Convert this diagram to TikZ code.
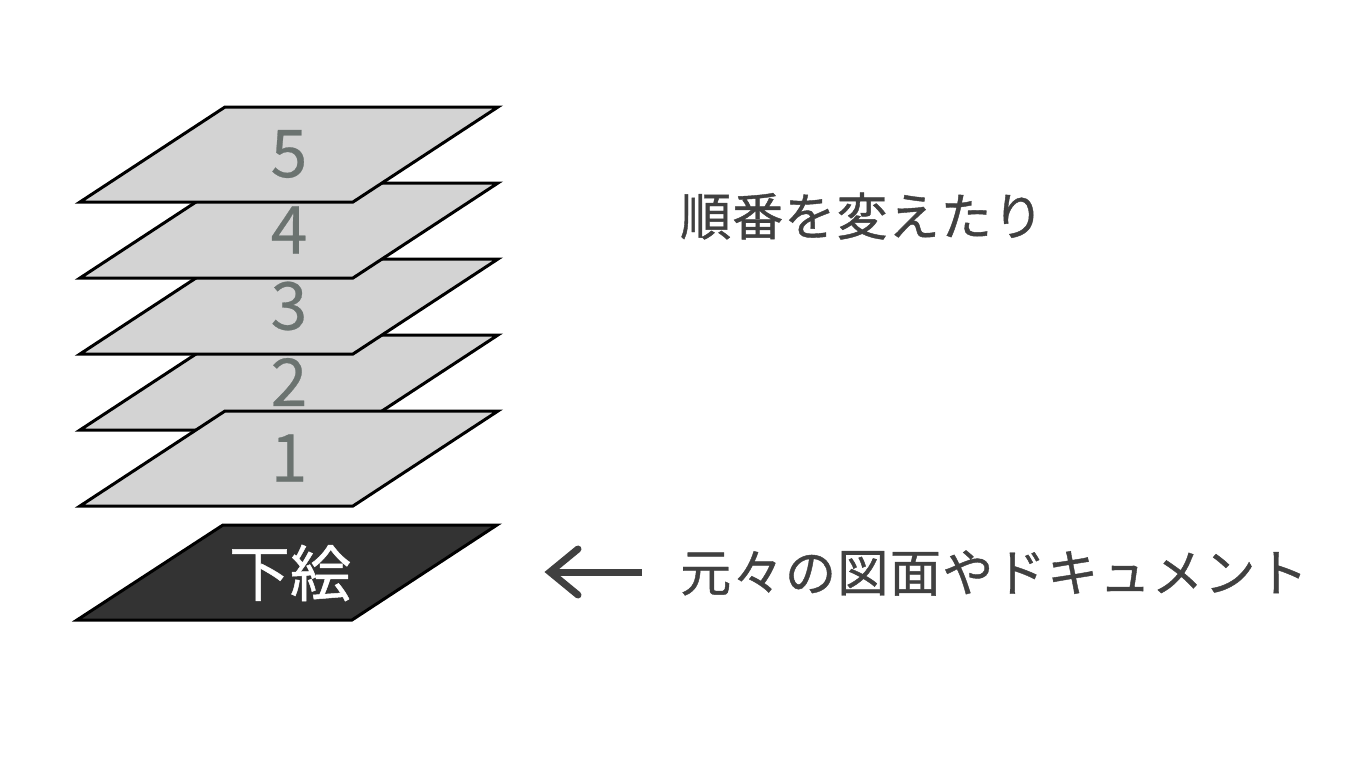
\documentclass[tikz,border=0pt]{standalone}
\usepackage{fontspec}
\usetikzlibrary{calc}
\setmainfont{Noto Sans CJK JP}
\newfontfamily\jptop[LetterSpace=2.2,FakeBold=0.8]{Noto Sans CJK JP}
\newfontfamily\jpbottom[LetterSpace=2.8,FakeBold=0.8]{Noto Sans CJK JP}
\newfontfamily\jpbase[FakeBold=0.8]{Noto Sans CJK JP}
\newfontfamily\jpnum[FakeBold=0.4]{Noto Sans CJK JP}
\definecolor{layerfill}{HTML}{D3D3D3}
\definecolor{basefill}{HTML}{333333}
\definecolor{numcol}{HTML}{6B7370}
\definecolor{txtcol}{HTML}{404040}
\begin{document}
\begin{tikzpicture}[x=1pt,y=-1pt,
  layer/.style={draw=black,line width=3pt,line join=miter,fill=layerfill},
  baselayer/.style={draw=black,line width=3pt,fill=basefill},
  numlabel/.style={text=numcol,font=\jpnum\fontsize{66}{66}\selectfont,inner sep=0pt},
  baselabel/.style={text=white,font=\jpbase\fontsize{61}{61}\selectfont,inner sep=0pt},
  sidetext/.style={text=txtcol,inner sep=0pt,anchor=west},
  pointer/.style={draw=txtcol,line width=7pt}]
\useasboundingbox (0,0) rectangle (1366,768);
% layer 2 (lowest in drawing order)
\foreach \n/\t in {2/335,1/411,3/259,4/183,5/107}{
  \path[layer] (225,\t) coordinate (L\n tl) -- (498,\t) coordinate (L\n tr)
    -- (353,\t+95) coordinate (L\n br) -- (80,\t+95) coordinate (L\n bl) -- cycle;
  \node[numlabel] (num\n) at (289,\t+47) {\n};
}
% base layer
\path[baselayer] (223,525) coordinate (Btl) -- (497,525) coordinate (Btr)
  -- (352,620) coordinate (Bbr) -- (77,620) coordinate (Bbl) -- cycle;
\node[baselabel] (base) at (290,573) {下絵};
% texts
\node[sidetext,font=\jptop\fontsize{51}{51}\selectfont] (order) at (680,216) {順番を変えたり};
\node[sidetext,font=\jpbottom\fontsize{51}{51}\selectfont] (orig) at (680,573) {元々の図面やドキュメント};
% arrow
\coordinate (arrowfrom) at (642,572);
\coordinate (arrowto) at (550,572);
\draw[pointer] (arrowfrom) -- (arrowto);
\draw[pointer,line cap=round,line join=miter] ($(arrowto)+(28,-23)$) -- (arrowto) -- ($(arrowto)+(28,23)$);
\end{tikzpicture}
\end{document}
